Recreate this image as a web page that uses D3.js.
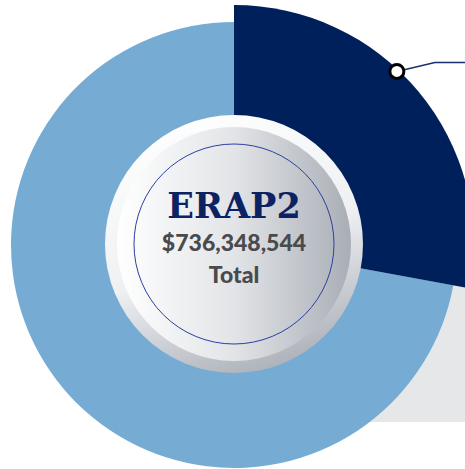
<!DOCTYPE html>
<html><head><meta charset="utf-8">
<script src="https://cdn.jsdelivr.net/npm/d3@7/dist/d3.min.js"></script>
<style>html,body{margin:0;padding:0;background:#fff;overflow:hidden}</style>
</head><body>
<svg id="c" width="465" height="469"></svg>
<script>
const categories = ["ERAP2 Share A", "ERAP2 Share B"];
const values = [205400000, 530948544];
const colors = ["#00205b", "#76acd3"];
const titleLabel = "ERAP2";
const totalLabel = "$736,348,544";
const subLabel = "Total";

const svg = d3.select("#c");
const cx = 234, cy = 245;
const defs = svg.append("defs");

// gray backdrop rectangle
svg.append("rect").attr("x", cx).attr("y", 210).attr("width", 465 - cx).attr("height", 422 - 210).attr("fill", "#e6e7e9");

const pie = d3.pie().sort(null).value(d => d)(values);
const outerR = [240, 223];
const arcs = pie.map((p, i) => ({p, arc: d3.arc().innerRadius(0).outerRadius(outerR[i])}));
const g = svg.append("g").attr("transform", `translate(${cx},${cy})`);
[1, 0].forEach(i => {
  g.append("path").attr("d", arcs[i].arc(arcs[i].p)).attr("fill", colors[i]);
});

// leader for dark slice
const p0 = pie[0];
const ang = p0.startAngle + (p0.endAngle - p0.startAngle) * 0.43;
const dr = 238;
const dx = dr * Math.sin(ang), dy = -dr * Math.cos(ang);
g.append("polyline")
  .attr("points", [[dx, dy], [dx + 38, dy - 9], [465 - cx, dy - 9]].map(p => p.join(",")).join(" "))
  .attr("fill", "none").attr("stroke", "#1a2f6e").attr("stroke-width", 1.5);
g.append("circle").attr("cx", dx).attr("cy", dy).attr("r", 7)
  .attr("fill", "#fff").attr("stroke", "#000").attr("stroke-width", 3);

// center badge
const ringGrad = defs.append("linearGradient").attr("id", "ring").attr("x1", "0.25").attr("y1", "0").attr("x2", "0.6").attr("y2", "1");
ringGrad.append("stop").attr("offset", "0").attr("stop-color", "#ffffff");
ringGrad.append("stop").attr("offset", "0.55").attr("stop-color", "#eef0f2");
ringGrad.append("stop").attr("offset", "1").attr("stop-color", "#aeb2ba");
const faceGrad = defs.append("linearGradient").attr("id", "face").attr("x1", "0").attr("y1", "0").attr("x2", "1").attr("y2", "0");
faceGrad.append("stop").attr("offset", "0").attr("stop-color", "#ffffff");
faceGrad.append("stop").attr("offset", "0.5").attr("stop-color", "#e2e4e7");
faceGrad.append("stop").attr("offset", "1").attr("stop-color", "#a9aeb6");

const bc = svg.append("g").attr("transform", `translate(${cx},${cy - 1})`);
bc.append("circle").attr("r", 129).attr("fill", "url(#ring)");
bc.append("circle").attr("r", 117).attr("fill", "url(#face)");
bc.append("circle").attr("r", 100).attr("fill", "none").attr("stroke", "#2b3fa3").attr("stroke-width", 1);

bc.append("text").attr("x", 0).attr("y", -26).attr("text-anchor", "middle")
  .attr("font-family", "DejaVu Serif").attr("font-weight", "bold").attr("font-size", 35)
  .attr("fill", "#0b2263").text(titleLabel);
bc.append("text").attr("x", 0).attr("y", 7).attr("text-anchor", "middle")
  .attr("font-family", "Lato").attr("font-weight", 900).attr("font-size", 23)
  .attr("fill", "#4a4a4c").text(totalLabel);
bc.append("text").attr("x", 0).attr("y", 39).attr("text-anchor", "middle")
  .attr("font-family", "Lato").attr("font-weight", 900).attr("font-size", 23)
  .attr("fill", "#4a4a4c").text(subLabel);
</script>
</body></html>
